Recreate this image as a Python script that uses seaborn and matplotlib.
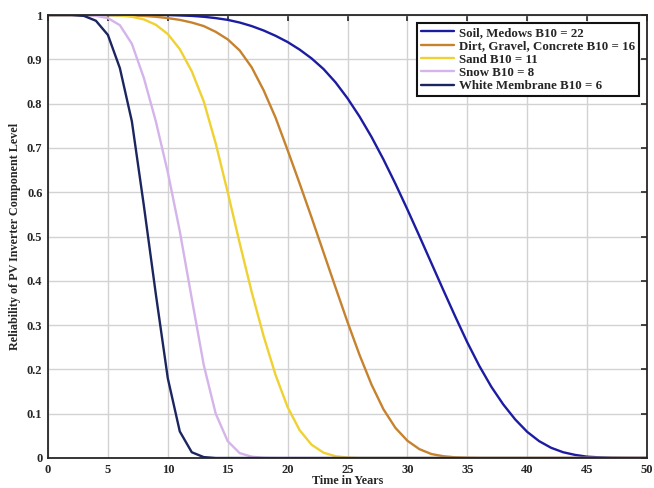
import matplotlib
matplotlib.use("Agg")
import matplotlib.pyplot as plt
import seaborn as sns
import pandas as pd

# Reliability of the PV inverter over time, per mounting surface (yearly samples)
years = list(range(51))

soil = [1.0, 1.0, 1.0, 1.0, 1.0, 1.0, 1.0, 1.0, 1.0, 1.0,
        1.0, 0.999, 0.998, 0.996, 0.993, 0.989, 0.983, 0.975, 0.965, 0.953,
        0.939, 0.922, 0.902, 0.878, 0.848, 0.812, 0.771, 0.725, 0.674, 0.619,
        0.561, 0.501, 0.440, 0.379, 0.319, 0.261, 0.208, 0.161, 0.121, 0.087,
        0.059, 0.038, 0.023, 0.013, 0.007, 0.003, 0.0015, 0.0005, 0.0002, 0.0,
        0.0]

dirt = [1.0, 1.0, 1.0, 1.0, 1.0, 1.0, 0.9995, 0.999, 0.998, 0.996,
        0.993, 0.989, 0.983, 0.975, 0.962, 0.945, 0.92, 0.882, 0.83, 0.768,
        0.695, 0.62, 0.543, 0.464, 0.385, 0.307, 0.233, 0.166, 0.11, 0.068,
        0.039, 0.02, 0.009, 0.004, 0.0015, 0.0005, 0.0, 0.0, 0.0, 0.0,
        0.0, 0.0, 0.0, 0.0, 0.0, 0.0, 0.0, 0.0, 0.0, 0.0,
        0.0]

sand = [1.0, 1.0, 1.0, 1.0, 1.0, 1.0, 0.999, 0.996, 0.99, 0.978,
        0.957, 0.923, 0.873, 0.805, 0.71, 0.60, 0.485, 0.375, 0.275, 0.187,
        0.115, 0.063, 0.03, 0.012, 0.004, 0.001, 0.0, 0.0, 0.0, 0.0,
        0.0, 0.0, 0.0, 0.0, 0.0, 0.0, 0.0, 0.0, 0.0, 0.0,
        0.0, 0.0, 0.0, 0.0, 0.0, 0.0, 0.0, 0.0, 0.0, 0.0,
        0.0]

snow = [1.0, 1.0, 1.0, 1.0, 0.998, 0.993, 0.977, 0.935, 0.858, 0.76,
        0.645, 0.512, 0.36, 0.21, 0.1, 0.038, 0.011, 0.003, 0.0005, 0.0,
        0.0, 0.0, 0.0, 0.0, 0.0, 0.0, 0.0, 0.0, 0.0, 0.0,
        0.0, 0.0, 0.0, 0.0, 0.0, 0.0, 0.0, 0.0, 0.0, 0.0,
        0.0, 0.0, 0.0, 0.0, 0.0, 0.0, 0.0, 0.0, 0.0, 0.0,
        0.0]

membrane = [1.0, 1.0, 1.0, 0.998, 0.987, 0.955, 0.88, 0.76, 0.57, 0.37,
            0.18, 0.06, 0.013, 0.002, 0.0, 0.0, 0.0, 0.0, 0.0, 0.0,
            0.0, 0.0, 0.0, 0.0, 0.0, 0.0, 0.0, 0.0, 0.0, 0.0,
            0.0, 0.0, 0.0, 0.0, 0.0, 0.0, 0.0, 0.0, 0.0, 0.0,
            0.0, 0.0, 0.0, 0.0, 0.0, 0.0, 0.0, 0.0, 0.0, 0.0,
            0.0]

labels = ["Soil, Medows B10 = 22",
          "Dirt, Gravel, Concrete B10 = 16",
          "Sand B10 = 11",
          "Snow B10 = 8",
          "White Membrane B10 = 6"]
series = [soil, dirt, sand, snow, membrane]
colors = ["#1c1ca3", "#c7822e", "#efd232", "#d4b4ea", "#1b2560"]

x_ticks = list(range(0, 51, 5))
y_ticks = [0.0, 0.1, 0.2, 0.3, 0.4, 0.5, 0.6, 0.7, 0.8, 0.9, 1.0]
y_tick_labels = ["0", "0.1", "0.2", "0.3", "0.4", "0.5", "0.6", "0.7", "0.8", "0.9", "1"]

df = pd.concat(
    [pd.DataFrame({"Time": years, "Reliability": vals, "Series": lab})
     for lab, vals in zip(labels, series)],
    ignore_index=True,
)

sns.set_style("white")
plt.rcParams["font.family"] = ["Liberation Serif", "DejaVu Serif"]
plt.rcParams["font.weight"] = "bold"

fig = plt.figure(figsize=(6.54, 4.88), dpi=100)
ax = fig.add_axes([48 / 654, 30 / 488, 599 / 654, 443 / 488])

sns.lineplot(data=df, x="Time", y="Reliability", hue="Series",
             hue_order=labels, palette=dict(zip(labels, colors)),
             linewidth=1.7, ax=ax)

ax.set_xlim(0, 50)
ax.set_ylim(0, 1)
ax.set_xticks(x_ticks)
ax.set_xticklabels([str(v) for v in x_ticks])
ax.set_yticks(y_ticks)
ax.set_yticklabels(y_tick_labels)

ax.grid(True, color="#d2d2d2", linewidth=1.0)
ax.set_axisbelow(True)

for sp in ax.spines.values():
    sp.set_color("#262626")
    sp.set_linewidth(1.3)

ax.tick_params(axis="both", which="major", direction="in", top=True, right=True,
               length=4, width=1.2, color="#262626", labelsize=9)
ax.tick_params(axis="x", pad=4)
ax.tick_params(axis="y", pad=4)
for lbl in ax.get_xticklabels() + ax.get_yticklabels():
    lbl.set_fontweight("bold")

ax.set_xlabel("Time in Years", fontsize=8.7, fontweight="bold", labelpad=-0.5)
ax.set_ylabel("Reliability of PV Inverter Component Level", fontsize=8.7,
              fontweight="bold", labelpad=4)

leg = ax.legend(loc="upper right", bbox_to_anchor=(1 - 8 / 599, 1 - 8 / 443),
                borderaxespad=0, frameon=True, fancybox=False,
                framealpha=1, edgecolor="#111111", handlelength=2.55,
                handletextpad=0.4, labelspacing=0.1, borderpad=0.3,
                prop={"weight": "bold", "size": 9.3})
leg.get_frame().set_linewidth(1.5)
for line in leg.get_lines():
    line.set_linewidth(1.7)

fig.savefig("out.png", dpi=100)
